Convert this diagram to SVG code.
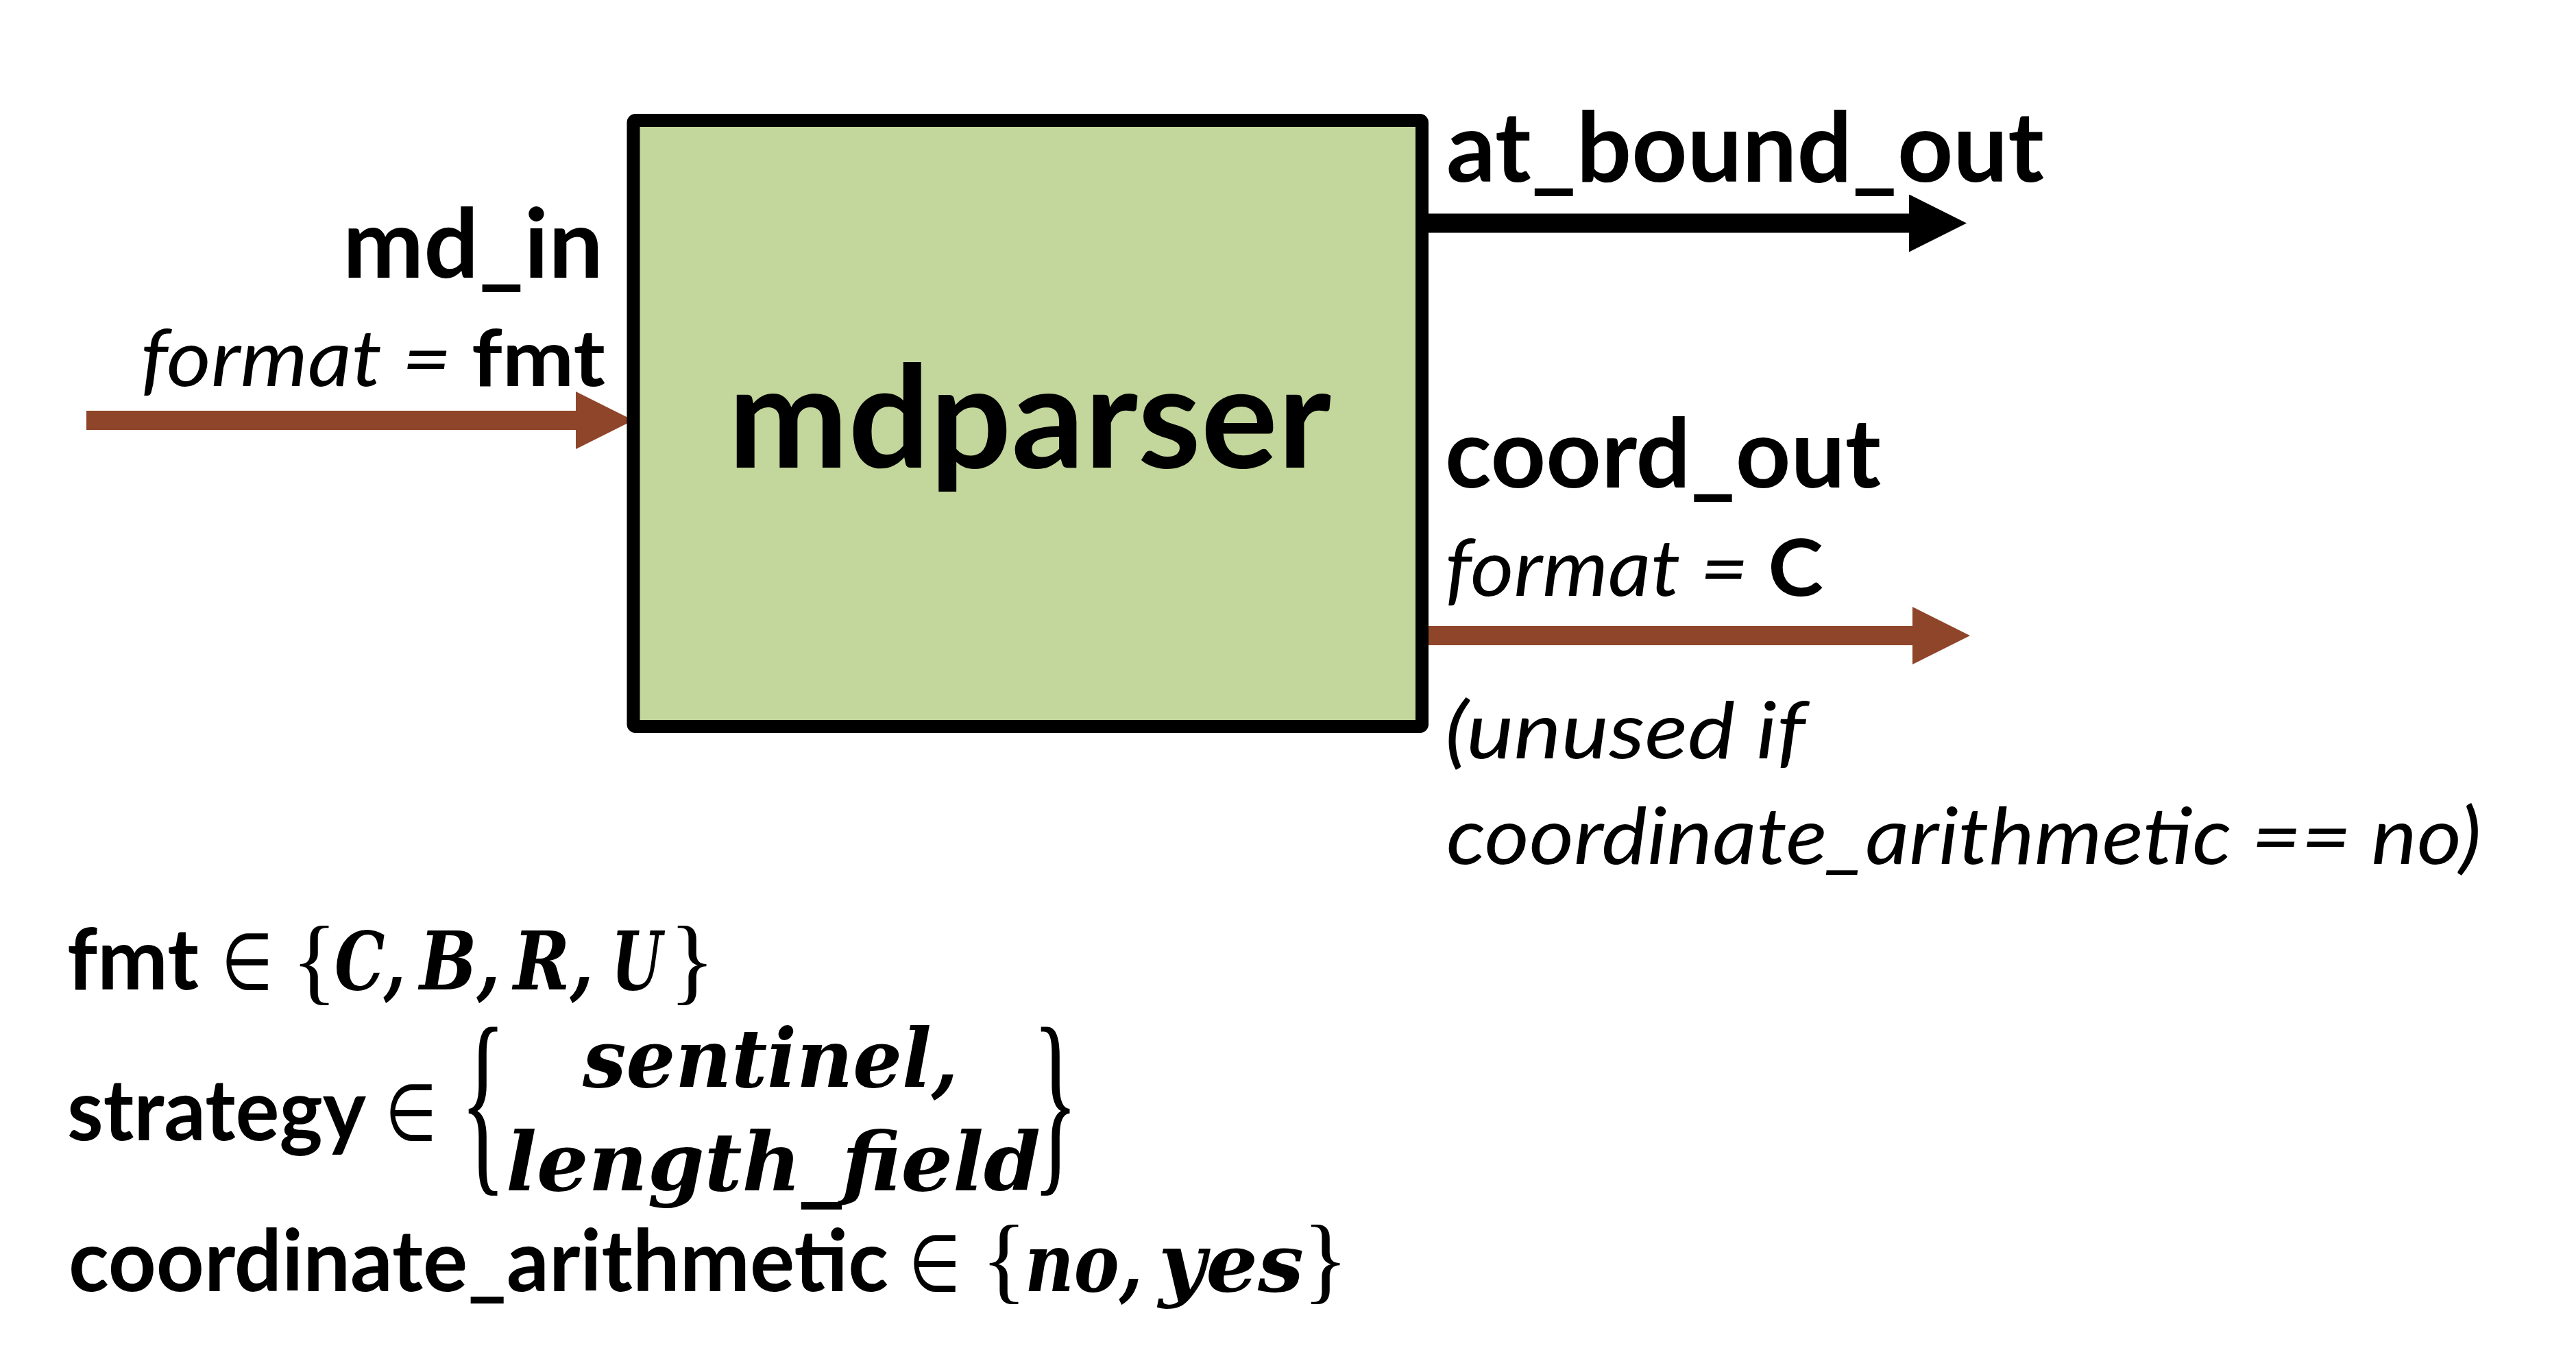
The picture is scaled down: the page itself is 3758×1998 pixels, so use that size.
<svg xmlns="http://www.w3.org/2000/svg" width="3758" height="1998" viewBox="0 0 3758 1998">
<style>
.lb{font-family:Lato,"Open Sans","Liberation Sans",sans-serif;font-weight:700;fill:#000}
.li{font-family:Lato,"Open Sans","Liberation Sans",sans-serif;font-style:italic;font-weight:400;fill:#000}
.b{font-weight:700;font-style:normal}
.m{font-family:"DejaVu Serif","Liberation Serif",serif;font-style:italic;font-weight:700;fill:#000}
.br{font-family:"Liberation Serif",serif;font-weight:400;fill:#000}
.el{font-family:"DejaVu Sans",sans-serif;font-weight:400;fill:#000}
.box{fill:#C3D69B;stroke:#000;stroke-width:19;stroke-linejoin:round}
.wb{stroke:#000;stroke-width:28;fill:none}
.wr{stroke:#8E4529;stroke-width:28;fill:none}
</style>
<defs>
<marker id="ahK" markerUnits="strokeWidth" markerWidth="3" markerHeight="3" viewBox="0 0 3 3" refX="0" refY="1.5" orient="auto"><path d="M0,0 L3,1.5 L0,3 z" fill="#000"/></marker>
<marker id="ahR" markerUnits="strokeWidth" markerWidth="3" markerHeight="3" viewBox="0 0 3 3" refX="0" refY="1.5" orient="auto"><path d="M0,0 L3,1.5 L0,3 z" fill="#8E4529"/></marker>
</defs>
<g id="connectors">
<line class="wr" x1="126" y1="613" x2="840" y2="613" marker-end="url(#ahR)"/>
<line class="wb" x1="2075" y1="325.5" x2="2785" y2="325.5" marker-end="url(#ahK)"/>
<line class="wr" x1="2075" y1="927" x2="2790" y2="927" marker-end="url(#ahR)"/>
</g>
<g id="mdparser">
<rect class="box" x="924" y="175.5" width="1150.5" height="884" rx="3"/>
<text class="lb" x="1062" y="682" font-size="207" textLength="880" lengthAdjust="spacingAndGlyphs">mdparser</text>
</g>
<g id="md_in-label">
<text class="lb" x="500" y="405" font-size="140" textLength="380" lengthAdjust="spacingAndGlyphs">md_in</text>
<text class="li" x="205" y="563" font-size="115" textLength="678" lengthAdjust="spacingAndGlyphs">format = <tspan class="b">fmt</tspan></text>
</g>
<g id="at_bound_out-label">
<text class="lb" x="2110" y="265" font-size="142" textLength="872" lengthAdjust="spacingAndGlyphs">at_bound_out</text>
</g>
<g id="coord_out-label">
<text class="lb" x="2108" y="711" font-size="140" textLength="636" lengthAdjust="spacingAndGlyphs">coord_out</text>
<text class="li" x="2108" y="869" font-size="115" textLength="552" lengthAdjust="spacingAndGlyphs">format = <tspan class="b">C</tspan></text>
<text class="li" x="2108" y="1106" font-size="115" textLength="526" lengthAdjust="spacingAndGlyphs">(unused if</text>
<text class="li" x="2110" y="1260" font-size="115" textLength="1510" lengthAdjust="spacingAndGlyphs">coordinate_arithmetic == no)</text>
</g>
<g id="parameters">
<text class="lb" x="98" y="1443" font-size="124" textLength="192" lengthAdjust="spacingAndGlyphs">fmt</text>
<text class="el" x="323" y="1443" font-size="115" textLength="75" lengthAdjust="spacingAndGlyphs">∈</text>
<text class="br" x="425" y="1447" font-size="140">{</text>
<text class="m" x="488" y="1443" font-size="118" textLength="104" lengthAdjust="spacingAndGlyphs">C,</text>
<text class="m" x="612" y="1443" font-size="118" textLength="118" lengthAdjust="spacingAndGlyphs">B,</text>
<text class="m" x="749" y="1443" font-size="118" textLength="117" lengthAdjust="spacingAndGlyphs">R,</text>
<text class="m" x="892" y="1443" font-size="118" textLength="74" lengthAdjust="spacingAndGlyphs">U</text>
<text class="br" x="976" y="1447" font-size="140">}</text>

<text class="lb" x="98" y="1663" font-size="124" textLength="436" lengthAdjust="spacingAndGlyphs">strategy</text>
<text class="el" x="562" y="1663" font-size="115" textLength="75" lengthAdjust="spacingAndGlyphs">∈</text>
<text class="br" transform="translate(671,1704) scale(1,2.125)" x="0" y="0" font-size="140">{</text>
<text class="m" x="850" y="1585" font-size="118" textLength="548" lengthAdjust="spacingAndGlyphs">sentinel,</text>
<text class="m" x="738" y="1736" font-size="118" textLength="780" lengthAdjust="spacingAndGlyphs">length_field</text>
<text class="br" transform="translate(1506,1704) scale(1,2.125)" x="0" y="0" font-size="140">}</text>

<text class="lb" x="100" y="1883" font-size="124" textLength="1196" lengthAdjust="spacingAndGlyphs">coordinate_arithmetic</text>
<text class="el" x="1326" y="1883" font-size="115" textLength="75" lengthAdjust="spacingAndGlyphs">∈</text>
<text class="br" x="1431" y="1883" font-size="140">{</text>
<text class="m" x="1495" y="1883" font-size="118" textLength="172" lengthAdjust="spacingAndGlyphs">no,</text>
<text class="m" x="1690" y="1883" font-size="118" textLength="212" lengthAdjust="spacingAndGlyphs">yes</text>
<text class="br" x="1900" y="1883" font-size="140">}</text>
</g>
</svg>
